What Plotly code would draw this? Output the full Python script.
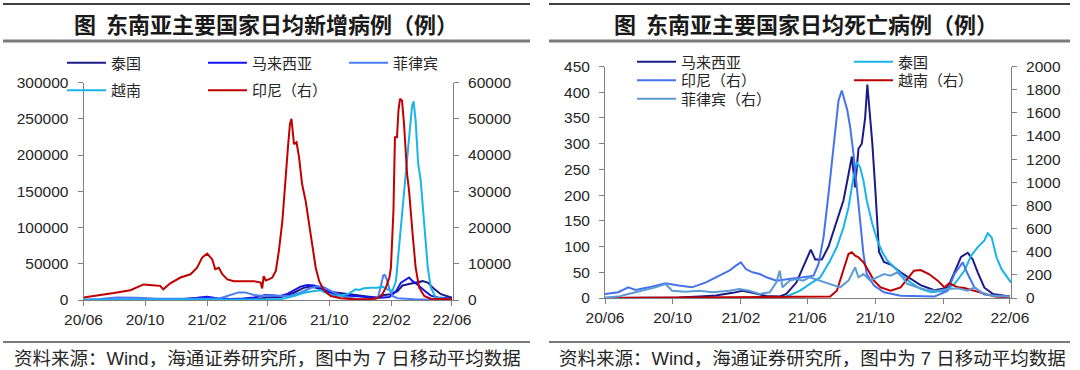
import plotly.graph_objects as go

# ---------------- Left panel: daily new cases (7-day MA) ----------------
th_c_dates = ["2020-06-01", "2021-01-10", "2021-04-21", "2021-05-11", "2021-05-31", "2021-06-26", "2021-07-23",
              "2021-08-12", "2021-08-25", "2021-09-07", "2021-09-27", "2021-10-17", "2021-11-06", "2021-11-26",
              "2021-12-16", "2022-01-04", "2022-01-18", "2022-01-31", "2022-02-13", "2022-02-23", "2022-03-08",
              "2022-03-21", "2022-04-04", "2022-04-14", "2022-04-27", "2022-05-10", "2022-06-01"]
th_c_vals = [5, 300, 300, 1500, 3500, 3800, 10000, 17000, 18500, 16500, 12000, 10000, 8000, 6000,
             4000, 3000, 7000, 8000, 12000, 20000, 22000, 24000, 26000, 24000, 15000, 8000, 3000]

my_c_dates = ["2020-06-01", "2020-10-05", "2020-12-10", "2021-01-12", "2021-02-01", "2021-02-21", "2021-03-19",
              "2021-04-14", "2021-05-05", "2021-05-28", "2021-06-10", "2021-06-26", "2021-07-10", "2021-07-23",
              "2021-08-05", "2021-08-18", "2021-09-01", "2021-09-14", "2021-09-30", "2021-10-17", "2021-11-06",
              "2021-11-26", "2021-12-16", "2022-01-11", "2022-01-28", "2022-02-10", "2022-02-20", "2022-03-02",
              "2022-03-08", "2022-03-15", "2022-03-25", "2022-04-07", "2022-04-20", "2022-05-04", "2022-06-01"]
my_c_vals = [30, 300, 1200, 3000, 4500, 2500, 1400, 2000, 3500, 7000, 6500, 5500, 8500, 14000,
             18500, 20800, 20000, 17000, 11000, 7000, 5500, 5000, 3800, 3000, 4000, 12000, 24000, 28000,
             31000, 26000, 21000, 13000, 6000, 3500, 2000]

ph_c_dates = ["2020-06-01", "2020-07-04", "2020-08-06", "2020-08-26", "2020-09-15", "2020-10-25", "2020-12-10",
              "2021-02-01", "2021-02-27", "2021-03-19", "2021-04-04", "2021-04-17", "2021-05-05", "2021-05-21",
              "2021-06-07", "2021-06-26", "2021-07-16", "2021-08-05", "2021-08-25", "2021-09-07", "2021-09-20",
              "2021-10-10", "2021-10-30", "2021-11-26", "2021-12-29", "2022-01-06", "2022-01-11", "2022-01-16",
              "2022-01-19", "2022-01-23", "2022-01-28", "2022-02-03", "2022-02-13", "2022-03-18", "2022-06-01"]
ph_c_vals = [600, 1500, 3500, 3700, 3000, 1800, 1500, 1800, 2500, 6500, 10500, 10500, 7000, 5500,
             6500, 5500, 5800, 10000, 16500, 19000, 17500, 10500, 4500, 1200, 600, 5000, 20000, 34000,
             34500, 28000, 15000, 5500, 2500, 1000, 300]

vn_c_dates = ["2020-06-01", "2021-05-20", "2021-06-26", "2021-07-23", "2021-08-12", "2021-09-01", "2021-09-14",
              "2021-09-30", "2021-10-17", "2021-11-06", "2021-11-22", "2021-11-29", "2021-12-09", "2021-12-22",
              "2022-01-04", "2022-01-14", "2022-01-24", "2022-02-03", "2022-02-10", "2022-02-16", "2022-02-23",
              "2022-03-02", "2022-03-08", "2022-03-14", "2022-03-17", "2022-03-21", "2022-03-26", "2022-03-31",
              "2022-04-07", "2022-04-14", "2022-04-20", "2022-04-30", "2022-06-01"]
vn_c_vals = [0, 300, 900, 5500, 10000, 12400, 13400, 7800, 5500, 7800, 14700, 13800, 16100, 17000,
             17000, 18400, 14700, 12400, 26000, 72000, 128000, 188000, 224000, 268000, 274000, 247000,
             188000, 165000, 105000, 45000, 17000, 3200, 900]

id_c_dates = ["2020-06-01", "2020-06-27", "2020-07-31", "2020-09-02", "2020-09-15", "2020-09-28", "2020-10-15",
              "2020-10-31", "2020-11-06", "2020-11-20", "2020-12-10", "2020-12-30", "2021-01-12", "2021-01-22",
              "2021-02-01", "2021-02-11", "2021-02-17", "2021-02-24", "2021-03-03", "2021-03-13", "2021-03-26",
              "2021-04-08", "2021-04-21", "2021-05-05", "2021-05-18", "2021-05-21", "2021-05-24", "2021-05-28",
              "2021-06-03", "2021-06-10", "2021-06-17", "2021-06-23", "2021-06-30", "2021-07-06", "2021-07-11",
              "2021-07-15", "2021-07-18", "2021-07-23", "2021-07-28", "2021-08-02", "2021-08-08", "2021-08-15",
              "2021-08-22", "2021-08-28", "2021-09-04", "2021-09-11", "2021-09-20", "2021-10-04", "2021-10-24",
              "2021-11-19", "2021-12-16", "2022-01-04", "2022-01-14", "2022-01-21", "2022-01-28", "2022-01-31",
              "2022-02-05", "2022-02-08", "2022-02-12", "2022-02-15", "2022-02-18", "2022-02-22", "2022-02-26",
              "2022-03-04", "2022-03-08", "2022-03-15", "2022-03-21", "2022-03-28", "2022-04-07", "2022-04-20",
              "2022-06-01"]
id_c_vals = [700, 1200, 1900, 2700, 3600, 4300, 4100, 3900, 2950, 4600, 6200, 7100, 8900, 11700,
             12800, 11200, 8500, 8900, 7100, 5700, 5200, 5200, 5000, 5200, 4800, 3200, 6600, 5400,
             5700, 6200, 8000, 13500, 21800, 33800, 42100, 48600, 50000, 43000, 43500, 39400, 32000, 27400,
             20900, 14500, 8900, 5200, 2700, 1100, 460, 200, 200, 460, 1600, 3400, 6200, 8900,
             24600, 44900, 44900, 52300, 55500, 55000, 48600, 34800, 30100, 18200, 8900, 3400, 1100, 370,
             200]

# ---------------- Right panel: daily new deaths (7-day MA) ----------------
my_d_dates = ["2020-06-01", "2020-10-12", "2020-11-18", "2020-12-18", "2021-01-17", "2021-02-04", "2021-02-22",
              "2021-03-19", "2021-04-12", "2021-04-24", "2021-05-12", "2021-05-24", "2021-06-02", "2021-06-07",
              "2021-06-15", "2021-06-27", "2021-07-09", "2021-07-24", "2021-08-05", "2021-08-14", "2021-08-20",
              "2021-08-26", "2021-09-01", "2021-09-07", "2021-09-13", "2021-09-17", "2021-09-21", "2021-09-26",
              "2021-10-02", "2021-10-08", "2021-10-17", "2021-10-29", "2021-11-16", "2021-12-04", "2021-12-22",
              "2022-01-16", "2022-02-09", "2022-02-21", "2022-03-05", "2022-03-17", "2022-03-26", "2022-04-04",
              "2022-04-16", "2022-05-01", "2022-06-01"]
my_d_vals = [0, 1, 3, 5, 10, 14, 10, 4, 3, 8, 30, 60, 82, 94, 75, 75, 100, 150, 190, 240, 275,
             215, 290, 300, 350, 415, 370, 300, 200, 90, 70, 65, 50, 38, 25, 15, 20, 50, 80, 88, 75, 50,
             20, 8, 3]

th_d_dates = ["2020-06-01", "2021-04-10", "2021-04-24", "2021-05-18", "2021-06-05", "2021-06-24", "2021-07-12",
              "2021-07-24", "2021-08-05", "2021-08-14", "2021-08-23", "2021-08-29", "2021-09-04", "2021-09-10",
              "2021-09-16", "2021-09-26", "2021-10-05", "2021-10-14", "2021-10-23", "2021-11-04", "2021-11-16",
              "2021-12-04", "2021-12-22", "2022-01-10", "2022-02-03", "2022-02-21", "2022-03-11", "2022-03-23",
              "2022-04-04", "2022-04-16", "2022-04-22", "2022-04-29", "2022-05-08", "2022-05-17", "2022-05-26",
              "2022-06-03"]
th_d_vals = [0, 0, 3, 14, 27, 40, 73, 99, 137, 176, 235, 264, 254, 228, 189, 144, 112, 89, 73, 60, 47,
             30, 18, 11, 14, 27, 53, 82, 99, 112, 126, 118, 79, 56, 43, 30]

id_d_dates = ["2020-06-01", "2020-06-25", "2020-07-13", "2020-07-26", "2020-08-19", "2020-09-18", "2020-10-12",
              "2020-11-05", "2020-11-30", "2020-12-24", "2021-01-11", "2021-01-23", "2021-02-01", "2021-02-10",
              "2021-02-22", "2021-03-07", "2021-03-19", "2021-04-06", "2021-04-24", "2021-05-12", "2021-05-24",
              "2021-06-12", "2021-06-21", "2021-06-30", "2021-07-09", "2021-07-18", "2021-07-27", "2021-08-02",
              "2021-08-08", "2021-08-12", "2021-08-17", "2021-08-23", "2021-08-29", "2021-09-04", "2021-09-10",
              "2021-09-16", "2021-09-29", "2021-10-17", "2021-11-16", "2022-01-16", "2022-02-09", "2022-02-21",
              "2022-03-08", "2022-03-17", "2022-03-29", "2022-04-16", "2022-06-01"]
id_d_vals = [35, 50, 92, 70, 92, 127, 107, 92, 135, 193, 236, 280, 308, 250, 222, 207, 179, 150, 164,
             173, 179, 193, 294, 525, 900, 1330, 1706, 1793, 1677, 1620, 1476, 1245, 957, 669, 380, 207,
             107, 49, 20, 12, 63, 207, 308, 207, 92, 29, 12]

vn_d_dates = ["2020-06-01", "2021-07-12", "2021-07-24", "2021-08-05", "2021-08-14", "2021-08-20", "2021-08-26",
              "2021-09-01", "2021-09-10", "2021-09-19", "2021-09-29", "2021-10-11", "2021-10-29", "2021-11-16",
              "2021-11-28", "2021-12-10", "2021-12-22", "2022-01-06", "2022-01-22", "2022-02-03", "2022-02-12",
              "2022-02-27", "2022-03-11", "2022-03-29", "2022-04-16", "2022-05-05", "2022-06-01"]
vn_d_vals = [0, 12, 63, 236, 380, 395, 366, 352, 308, 236, 150, 92, 63, 92, 164, 236, 242, 207, 150,
             92, 127, 92, 86, 63, 35, 12, 5]

ph_d_dates = ["2020-06-01", "2020-06-25", "2020-07-13", "2020-08-07", "2020-08-31", "2020-09-18", "2020-09-30",
              "2020-10-24", "2020-11-18", "2020-12-12", "2021-01-11", "2021-01-29", "2021-02-16", "2021-03-07",
              "2021-03-25", "2021-04-06", "2021-04-12", "2021-04-17", "2021-04-30", "2021-05-12", "2021-05-24",
              "2021-06-05", "2021-06-24", "2021-07-12", "2021-07-30", "2021-08-14", "2021-08-26", "2021-09-01",
              "2021-09-10", "2021-09-22", "2021-10-05", "2021-10-17", "2021-10-29", "2021-11-10", "2021-11-19",
              "2021-11-28", "2021-12-16", "2022-01-03", "2022-01-22", "2022-02-09", "2022-02-27", "2022-03-17",
              "2022-03-29", "2022-04-10", "2022-04-29", "2022-06-01"]
ph_d_vals = [5, 12, 35, 63, 92, 121, 63, 55, 63, 49, 63, 78, 63, 35, 49, 135, 236, 92, 150, 164, 150,
             179, 150, 121, 92, 150, 265, 179, 207, 150, 179, 207, 193, 222, 179, 121, 92, 69, 63, 78,
             84, 63, 92, 49, 20, 10]

# ---------------- styling ----------------
NAVY = "#1B1B87"
BLUE = "#1414EE"
ROYAL = "#4A7CF3"
SKY = "#18B4EC"
RED = "#C00000"
IDBLUE = "#4472F0"
STEEL = "#5B9BD5"
NUM_FONT = dict(family="Liberation Sans, Arial, sans-serif", size=15.5, color="#262626")
CJK = "Noto Sans CJK SC, sans-serif"
W, H = 1080, 370


def px_x(p):
    return p / W


def px_y(p):
    return 1 - p / H


fig = go.Figure()
legend_pos = {}


def add(x, y, name, color, xa, ya, lg, lx, ly):
    fig.add_trace(go.Scatter(x=x, y=y, name=name, mode="lines", line=dict(color=color, width=2),
                             xaxis=xa, yaxis=ya, legend=lg))
    legend_pos[lg] = (lx, ly)


# legend entry: pixel x of the legend line start and y of the row centre
add(th_c_dates, th_c_vals, "泰国", NAVY, "x", "y", "legend", 69, 65)
add(my_c_dates, my_c_vals, "马来西亚", BLUE, "x", "y", "legend2", 210, 65)
add(ph_c_dates, ph_c_vals, "菲律宾", ROYAL, "x", "y", "legend3", 351, 65)
add(vn_c_dates, vn_c_vals, "越南", SKY, "x", "y", "legend4", 69, 92.5)
add(id_c_dates, id_c_vals, "印尼（右）", RED, "x", "y2", "legend5", 210, 92.5)

add(my_d_dates, my_d_vals, "马来西亚", NAVY, "x2", "y3", "legend6", 639, 64)
add(th_d_dates, th_d_vals, "泰国", SKY, "x2", "y3", "legend7", 856, 64)
add(id_d_dates, id_d_vals, "印尼（右）", IDBLUE, "x2", "y4", "legend8", 639, 82.5)
add(vn_d_dates, vn_d_vals, "越南（右）", RED, "x2", "y4", "legend9", 856, 82.5)
add(ph_d_dates, ph_d_vals, "菲律宾（右）", STEEL, "x2", "y4", "legend10", 639, 101)

axis_common = dict(showline=True, linecolor="#808080", linewidth=1, ticks="outside", ticklen=5,
                   tickcolor="#808080", showgrid=False, zeroline=False, tickfont=NUM_FONT, automargin=False)
xcommon = dict(axis_common, type="date", range=["2020-06-01", "2022-06-03"], tick0="2020-06-01",
               dtick="M4", tickformat="%y/%m")

layout = dict(
    width=W, height=H, margin=dict(l=0, r=0, t=0, b=0, autoexpand=False),
    paper_bgcolor="white", plot_bgcolor="white", showlegend=True, hovermode=False,
    xaxis=dict(xcommon, domain=[px_x(83.5), px_x(453)], anchor="y"),
    yaxis=dict(axis_common, domain=[px_y(300), px_y(82.5)], anchor="x", range=[0, 300000], dtick=50000,
               tickformat="d", ticklabelstandoff=6),
    yaxis2=dict(axis_common, overlaying="y", side="right", anchor="x", range=[0, 60000], dtick=10000,
                tickformat="d", ticklabelstandoff=6),
    xaxis2=dict(xcommon, domain=[px_x(605), px_x(1011)], anchor="y3"),
    yaxis3=dict(axis_common, domain=[px_y(298), px_y(66.5)], anchor="x2", range=[0, 450], dtick=50,
                tickformat="d", ticklabelstandoff=6),
    yaxis4=dict(axis_common, overlaying="y3", side="right", anchor="x2", range=[0, 2000], dtick=200,
                tickformat="d", ticklabelstandoff=6),
)

leg_font = dict(family=CJK, size=15, color="#262626")
for lg, (lx, ly) in legend_pos.items():
    layout[lg] = dict(orientation="v", xanchor="left", yanchor="top", bgcolor="rgba(0,0,0,0)",
                      font=leg_font, itemclick=False, itemwidth=39, borderwidth=0,
                      x=px_x(lx - 7), y=px_y(ly - 18.5))

fig.update_layout(**layout)

# title bars and source notes
shapes = []
for x0, x1 in [(3, 530), (549, 1070)]:
    shapes.append(dict(type="line", xref="paper", yref="paper", x0=px_x(x0), x1=px_x(x1),
                       y0=px_y(4), y1=px_y(4), line=dict(color="#404040", width=2)))
    shapes.append(dict(type="line", xref="paper", yref="paper", x0=px_x(x0), x1=px_x(x1),
                       y0=px_y(41), y1=px_y(41), line=dict(color="#7a7a7a", width=3)))
    shapes.append(dict(type="line", xref="paper", yref="paper", x0=px_x(x0), x1=px_x(x1),
                       y0=px_y(342), y1=px_y(342), line=dict(color="#7a7a7a", width=2)))
fig.update_layout(shapes=shapes)

title_font = dict(family=CJK, size=22, color="#1a1a1a", weight="bold")
src_font = dict(family="Liberation Sans, " + CJK, size=18.5, color="#262626")
fig.add_annotation(xref="paper", yref="paper", x=px_x(266), y=px_y(23), xanchor="center", yanchor="middle",
                   text="图  东南亚主要国家日均新增病例（例）", showarrow=False, font=title_font)
fig.add_annotation(xref="paper", yref="paper", x=px_x(806), y=px_y(23), xanchor="center", yanchor="middle",
                   text="图  东南亚主要国家日均死亡病例（例）", showarrow=False, font=title_font)
fig.add_annotation(xref="paper", yref="paper", x=px_x(12), y=px_y(358), xanchor="left", yanchor="middle",
                   text="资料来源：Wind，海通证券研究所，图中为 7 日移动平均数据", showarrow=False, font=src_font)
fig.add_annotation(xref="paper", yref="paper", x=px_x(557), y=px_y(358), xanchor="left", yanchor="middle",
                   text="资料来源：Wind，海通证券研究所，图中为 7 日移动平均数据", showarrow=False, font=src_font)

# the page body has a default 8px margin; remove it so the 1080x370 figure fills the window
fig.write_html("out.html", config={"displayModeBar": False, "staticPlot": True},
               post_script="document.body.style.margin='0';")
